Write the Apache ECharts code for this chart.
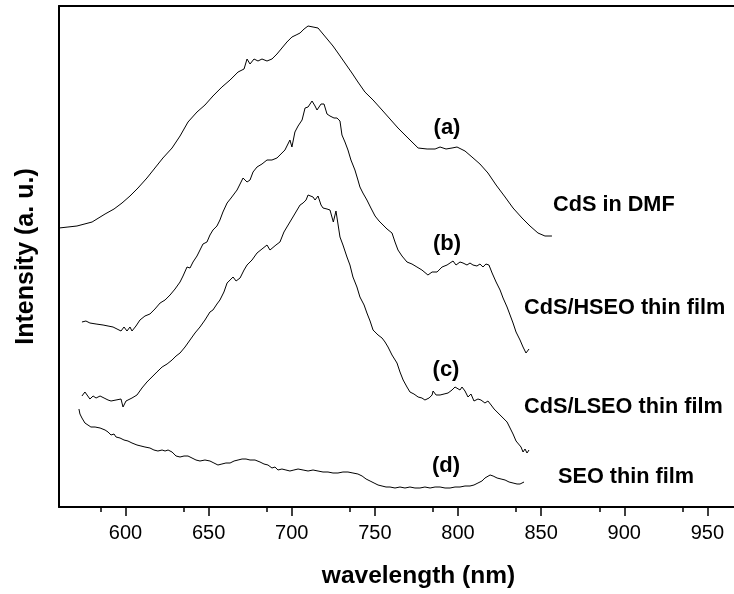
<!DOCTYPE html>
<html lang="en">
<head>
    <meta charset="UTF-8">
    <title>PL spectra</title>
    <script type="text/javascript" src="https://cdn.jsdelivr.net/npm/echarts@6/dist/echarts.min.js"></script>
    <style>
        html, body { margin: 0; padding: 0; background: #fff; }
    </style>
</head>
<body>
<div id="main" style="width: 734px;height:594px;"></div>
<script type="text/javascript">
    // (a) CdS in DMF
    var waveA = [560.0,565.4,570.8,579.9,587.7,593.1,597.9,602.7,607.5,612.9,617.7,622.5,628.0,632.8,637.6,643.0,647.8,652.6,658.0,662.9,667.7,671.3,673.1,674.9,677.3,679.7,682.1,685.1,688.1,691.1,694.1,697.1,700.1,702.6,705.0,707.4,709.8,712.8,715.8,718.8,721.8,724.8,727.8,732.0,736.2,739.8,744.0,748.9,754.3,759.1,763.9,769.9,776.0,781.4,786.2,789.2,792.8,796.4,799.4,804.2,808.4,813.2,818.0,822.9,828.3,833.1,838.5,843.3,848.1,852.3,856.5];
    var intA  = [279,280,281,285,293,298,304,311,319,329,339,349,359,371,385,395,402,411,420,427,435,438,448,443,448,446,448,446,448,453,459,465,470,472,474,478,481,480,479,473,467,461,454,444,434,425,415,407,397,388,379,369,359,358,358,360,358,359,360,356,350,343,334,322,310,299,289,281,274,271,271];

    // (b) CdS/HSEO thin film
    var waveB = [573.8,576.2,578.6,582.3,586.5,589.5,592.5,594.9,597.3,599.1,600.9,602.7,603.9,606.3,608.7,611.7,614.7,617.7,620.8,623.8,626.8,629.8,632.8,634.6,637.0,638.8,640.6,643.0,644.8,646.6,649.0,650.8,652.6,655.0,656.8,658.6,661.1,663.5,667.1,668.9,670.7,673.1,674.9,676.7,679.1,682.1,685.1,688.1,691.1,693.5,695.9,697.7,698.9,700.1,701.9,703.8,706.2,708.0,709.8,712.2,714.0,715.2,717.6,719.4,721.2,723.0,725.4,727.2,729.0,730.2,732.0,733.8,735.6,738.0,739.8,741.0,742.8,745.2,747.6,750.1,752.5,754.9,757.3,760.3,762.1,763.9,766.3,769.3,772.3,775.3,778.3,781.9,784.4,787.4,790.4,793.4,795.2,797.0,798.8,801.2,803.0,805.4,807.2,809.0,811.4,813.2,815.0,816.8,818.6,820.5,822.9,825.3,827.1,829.5,831.3,833.1,834.9,837.3,839.1,840.9,842.7];
    var intB  = [185,186,184,183,182,181,180,178,176,180,176,180,176,181,187,191,193,198,204,207,212,218,225,231,240,239,245,251,257,263,265,272,277,281,287,295,304,309,317,323,329,325,327,335,340,343,347,347,349,353,357,363,367,360,375,381,387,399,400,406,401,397,403,403,393,391,389,389,386,372,365,357,347,337,327,320,314,307,299,291,286,282,278,274,265,257,251,245,243,240,237,232,235,235,240,242,244,246,242,245,244,242,244,242,241,243,240,243,242,234,225,217,209,200,192,184,175,167,160,154,158];

    // (c) CdS/LSEO thin film
    var waveC = [573.8,575.6,576.8,578.6,580.5,582.3,584.7,587.1,589.5,591.3,592.5,594.3,595.5,597.3,598.5,600.3,601.5,603.9,606.9,609.9,612.9,615.9,618.9,622.0,625.0,628.0,630.4,632.8,635.8,638.8,641.8,644.8,647.8,650.8,652.6,655.0,656.8,659.2,661.1,662.9,664.7,666.5,668.9,671.3,673.1,676.1,679.1,682.1,685.1,686.9,688.1,690.5,692.9,695.3,697.1,698.9,700.7,703.2,705.0,706.8,708.6,709.8,711.0,712.8,714.0,715.8,717.6,718.8,721.2,723.0,725.0,726.6,727.8,729.0,730.8,733.2,735.0,736.8,739.2,741.0,743.5,745.2,747.1,748.9,751.9,754.3,756.1,757.9,760.3,763.3,765.1,767.0,769.3,771.1,773.5,776.0,778.3,780.1,782.6,784.4,785.0,786.8,789.2,791.6,794.0,796.4,798.2,799.4,801.2,802.4,804.2,806.0,807.8,809.6,812.0,813.8,816.2,818.0,819.9,821.7,823.5,825.3,827.7,829.5,831.3,833.1,834.9,836.1,837.9,839.1,840.3,841.5,842.7];
    var intC  = [111,115,113,108,111,109,111,109,107,106,104,107,106,108,100,106,105,109,112,119,125,130,135,140,143,147,151,154,160,167,174,180,187,195,197,203,207,215,224,227,230,226,229,237,242,247,254,258,262,257,255,262,265,275,280,285,290,297,302,304,307,312,314,310,307,311,302,299,298,297,285,296,283,270,262,250,242,230,220,210,202,194,186,177,172,169,165,160,152,144,135,127,120,115,113,110,109,107,109,112,116,112,112,113,114,117,120,121,117,120,116,110,113,106,108,107,104,106,102,98,95,92,88,85,79,73,66,64,60,55,58,54,57];

    // (d) SEO thin film
    var waveD = [572.0,572.6,573.8,575.6,576.8,579.2,581.7,584.7,587.7,589.5,591.3,593.1,594.3,596.7,599.1,601.5,603.9,606.9,609.3,611.7,614.7,617.1,619.5,622.0,623.8,625.6,628.0,630.4,632.8,635.2,637.6,640.0,642.4,644.8,647.8,650.8,653.2,655.6,658.0,660.4,662.9,665.3,667.7,670.1,672.5,674.9,677.9,680.9,683.3,685.7,688.1,689.9,691.7,694.1,696.5,698.9,701.3,703.8,706.8,709.8,712.8,715.8,718.8,721.8,724.8,727.8,730.8,733.8,736.8,739.8,742.3,744.7,747.1,749.5,751.9,754.3,756.7,759.1,762.1,765.1,768.1,771.1,774.1,777.1,780.1,783.2,786.2,789.2,792.2,795.2,798.2,801.2,804.2,807.2,809.6,812.0,814.4,816.2,817.4,819.3,821.1,823.5,825.9,828.3,830.7,833.1,835.5,837.3,839.7];
    var intD  = [98,93,89,84,82,80,80,79,77,75,72,73,70,69,67,66,64,62,61,60,59,57,56,57,56,57,55,51,50,51,51,49,47,46,47,46,44,42,43,44,44,46,47,48,48,47,47,45,43,42,39,40,37,38,37,36,37,38,37,36,37,36,35,35,34,34,35,35,34,33,31,28,26,24,22,21,20,20,19,20,19,20,19,19,20,19,20,20,19,19,20,20,21,21,22,24,26,29,31,32,31,29,28,27,25,24,23,23,25];

    var xTicks = [600, 650, 700, 750, 800, 850, 900, 950];
    var curveTags = ['(a)', '(b)', '(c)', '(d)'];
    var sampleNames = ['CdS in DMF', 'CdS/HSEO thin film', 'CdS/LSEO thin film', 'SEO thin film'];

    function pairs(xs, ys) {
        var out = [];
        for (var i = 0; i < xs.length; i++) {
            out.push([xs[i], ys[i]]);
        }
        return out;
    }

    var myChart = echarts.init(document.getElementById('main'));

    var fontFam = '"Liberation Sans", Arial, sans-serif';
    var lineStyle = {color: '#000', width: 1};
    var seriesList = [
        pairs(waveA, intA), pairs(waveB, intB), pairs(waveC, intC), pairs(waveD, intD)
    ].map(function (d, i) {
        return {
            name: sampleNames[i],
            type: 'line',
            data: d,
            showSymbol: false,
            symbol: 'none',
            lineStyle: lineStyle,
            silent: true
        };
    });

    // where the tags and names sit (pixels)
    var tagPos = [[447, 128], [447, 244], [446, 370], [446, 466]];
    var namePos = [[553, 205], [524, 308], [524, 407], [558, 477]];
    var graphics = [];
    for (var i = 0; i < 4; i++) {
        graphics.push({
            type: 'text', x: tagPos[i][0], y: tagPos[i][1],
            style: {
                text: curveTags[i], fill: '#000', align: 'center', verticalAlign: 'middle',
                font: 'bold 22px ' + fontFam
            }
        });
        graphics.push({
            type: 'text', x: namePos[i][0], y: namePos[i][1],
            style: {
                text: sampleNames[i], fill: '#000', align: 'left', verticalAlign: 'middle',
                font: 'bold 21.7px ' + fontFam
            }
        });
    }

    var option = {
        animation: false,
        backgroundColor: '#fff',
        grid: {left: 59, right: 0, top: 6, bottom: 87},
        xAxis: [
            {
                type: 'value',
                min: 560,
                max: 966,
                interval: 50,
                name: 'wavelength (nm)',
                nameLocation: 'middle',
                nameGap: 57,
                nameTextStyle: {
                    color: '#000', fontSize: 24.5, fontWeight: 'bold',
                    fontFamily: fontFam,
                    padding: [0, 0, 0, 44]
                },
                axisLine: {onZero: false, lineStyle: {color: '#000', width: 2}},
                axisTick: {show: true, inside: false, length: 9, lineStyle: {color: '#000', width: 1.5},
                    customValues: xTicks},
                minorTick: {show: true, splitNumber: 2, length: 5, lineStyle: {color: '#000', width: 1.5}},
                axisLabel: {
                    color: '#000', fontSize: 20, margin: 16,
                    fontFamily: fontFam,
                    customValues: xTicks
                },
                splitLine: {show: false}
            },
            {
                type: 'value',
                position: 'top',
                min: 560,
                max: 966,
                axisLine: {onZero: false, lineStyle: {color: '#000', width: 2}},
                axisTick: {show: false},
                axisLabel: {show: false},
                splitLine: {show: false}
            }
        ],
        yAxis: {
            type: 'value',
            min: 0,
            max: 501,
            name: 'Intensity (a. u.)',
            nameLocation: 'middle',
            nameGap: 20,
            nameTextStyle: {
                color: '#000', fontSize: 25, fontWeight: 'bold',
                fontFamily: fontFam
            },
            axisLine: {show: true, lineStyle: {color: '#000', width: 2}},
            axisTick: {show: false},
            axisLabel: {show: false},
            splitLine: {show: false}
        },
        series: seriesList,
        graphic: graphics
    };

    myChart.setOption(option);
</script>
</body>
</html>
